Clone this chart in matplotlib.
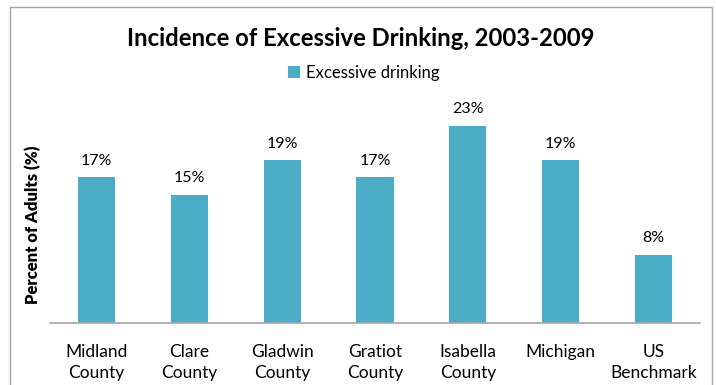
import matplotlib.pyplot as plt
from matplotlib.patches import Rectangle

categories = ["Midland\nCounty", "Clare\nCounty", "Gladwin\nCounty", "Gratiot\nCounty",
              "Isabella\nCounty", "Michigan", "US\nBenchmark"]
values = [17, 15, 19, 17, 23, 19, 8]
series_name = "Excessive drinking"

bar_color = "#4bacc6"
font = ["Lato", "DejaVu Sans"]

fig = plt.figure(figsize=(7.16, 3.85), dpi=100)
fig.patches.append(Rectangle((10 / 716, -0.01), 702 / 716, 1 - 7 / 385 + 0.01,
                             transform=fig.transFigure, fill=False,
                             edgecolor="#a6a6a6", linewidth=1.0))

ax = fig.add_axes([50 / 716, 1 - 323 / 385, 650 / 716, 214 / 385])
x = range(len(categories))
bars = ax.bar(x, values, width=0.4, color=bar_color, label=series_name)
for b, v in zip(bars, values):
    ax.annotate(f"{v}%", (b.get_x() + b.get_width() / 2, v), xytext=(0, 7),
                textcoords="offset points", ha="center", va="bottom",
                fontsize=11.5, family=font)

ax.set_xlim(-0.5, len(categories) - 0.5)
ax.set_ylim(0, 25)
ax.set_xticks(list(x))
ax.set_xticklabels(categories, fontsize=12.5, family=font, linespacing=1.4)
ax.tick_params(axis="x", length=0, pad=15)
ax.set_yticks([])
for s in ["top", "right", "left"]:
    ax.spines[s].set_visible(False)
ax.spines["bottom"].set_color("#a6a6a6")
ax.spines["bottom"].set_linewidth(1.2)

fig.text(33 / 716, 1 - 225 / 385, "Percent of Adults (%)", rotation=90,
         ha="center", va="center", fontsize=12, fontweight="heavy", family=font)
fig.text(361 / 716, 1 - 38 / 385, "Incidence of Excessive Drinking, 2003-2009",
         ha="center", va="center", fontsize=17.2, fontweight="bold", family=font)
fig.legend(handles=[bars], labels=[series_name], loc="center",
           bbox_to_anchor=(364 / 716, 1 - 73 / 385), frameon=False,
           prop={"family": font, "size": 12}, handlelength=0.7, handleheight=0.7,
           handletextpad=0.4)

fig.savefig("out.png", dpi=100)
